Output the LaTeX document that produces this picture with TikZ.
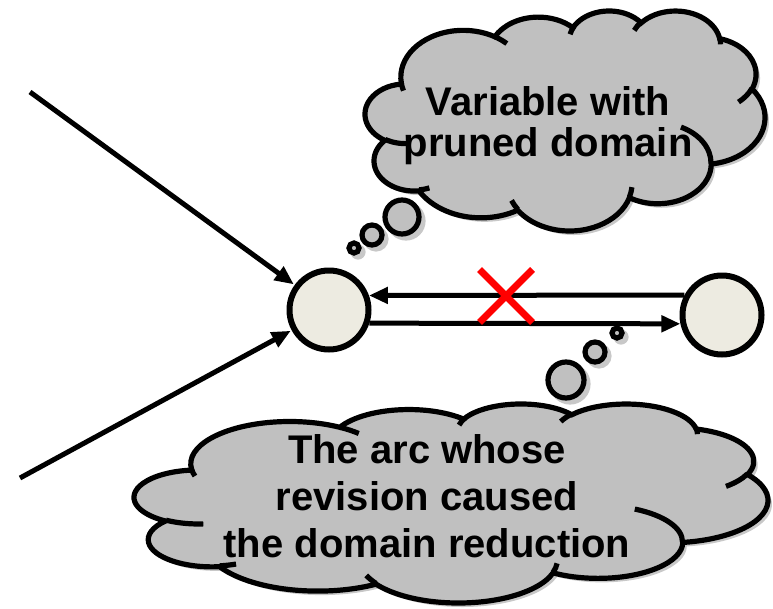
\documentclass[tikz,border=0pt]{standalone}
\usepackage{fontspec}
\setmainfont{Liberation Sans}
\usetikzlibrary{arrows.meta,shapes.misc}
\definecolor{cloudgray}{HTML}{C0C0C0}
\definecolor{nodefill}{HTML}{EDEBE1}
\definecolor{shadowgray}{HTML}{606060}
\tikzset{
  cloudline/.style={draw=black, line width=5.2pt, fill=cloudgray},
  creaseline/.style={draw=black, line width=5.2pt},
  cloudshadow/.style={fill=shadowgray, opacity=0.35, xshift=4pt, yshift=-4pt},
  vertex/.style={circle, draw=black, line width=6pt, fill=nodefill, minimum size=79pt, inner sep=0pt},
  edge/.style={line width=5pt, -{Triangle[length=19pt,width=16pt]}},
  cloudtext/.style={font=\bfseries\fontsize{40}{41}\selectfont, align=center, inner sep=0pt},
  bubble/.style={circle, draw=black, line width=5.2pt, fill=cloudgray, inner sep=0pt},
  bubbleshadow/.style={circle, fill=shadowgray, opacity=0.35, inner sep=0pt},
}
% OOXML "cloud" geometry, path units /100 (box 432 x 432, y downwards)
\def\arclist{67.53/91.90/-190.4875/123.7805, 53.33/72.67/-144.1024/89.9452, 43.65/59.45/-145.8079/99.7230, 48.57/65.95/-130.9861/117.2417, 53.33/72.73/-78.7089/109.0269, 67.75/92.20/-46.2673/130.2690, 57.85/78.67/0.6250/114.0333, 67.52/92.15/22.4516/115.1726, 77.20/105.43/66.2426/75.7110, 43.60/59.18/-274.9421/146.7356, 43.45/59.45/-246.8285/152.5189}
\def\creaselist{46.93/261.77/43.45/59.45/86.7420/26.4295, 69.28/348.99/43.60/59.18/73.6105/11.4475, 164.78/390.90/67.52/92.15/137.6242/14.0811, 288.27/347.51/67.52/92.15/6.4533/15.9984, 341.29/229.54/57.85/78.67/-70.2924/70.9174, 417.98/153.54/53.33/72.73/30.3180/27.7515, 383.24/54.26/48.57/65.95/-13.7443/14.8589, 290.78/39.52/48.57/65.95/-149.1815/18.1954, 221.41/47.20/43.65/59.45/-163.4943/19.0138, 140.00/51.92/67.53/91.90/-66.7070/12.3194, 41.27/157.89/67.53/91.90/157.6544/11.8582}
\newcommand\ooangles{%
  \pgfmathsetmacro\tz{atan2(\wr*sin(\st),\hr*cos(\st))}%
  \pgfmathsetmacro\te{atan2(\wr*sin(\st+\sw),\hr*cos(\st+\sw))}%
  \pgfmathsetmacro\dt{\te-\tz}%
  \pgfmathsetmacro\dt{\dt+360*round((\sw-\dt)/360)}%
}
\newcommand\cloudbbox{%
  \xdef\curx{39.00}\xdef\cury{143.70}%
  \xdef\minx{39}\xdef\maxx{39}\xdef\miny{143.7}\xdef\maxy{143.7}%
  \foreach \wr/\hr/\st/\sw in \arclist {%
    \ooangles
    \pgfmathsetmacro\ccx{\curx-\wr*cos(\tz)}%
    \pgfmathsetmacro\ccy{\cury-\hr*sin(\tz)}%
    \foreach \k in {0,...,30}{%
      \pgfmathsetmacro\ppx{\ccx+\wr*cos(\tz+\dt*\k/30)}%
      \pgfmathsetmacro\ppy{\ccy+\hr*sin(\tz+\dt*\k/30)}%
      \pgfmathsetmacro\mm{min(\minx,\ppx)}\xdef\minx{\mm}%
      \pgfmathsetmacro\mm{max(\maxx,\ppx)}\xdef\maxx{\mm}%
      \pgfmathsetmacro\mm{min(\miny,\ppy)}\xdef\miny{\mm}%
      \pgfmathsetmacro\mm{max(\maxy,\ppy)}\xdef\maxy{\mm}%
    }%
    \pgfmathsetmacro\mm{\ccx+\wr*cos(\tz+\dt)}\xdef\curx{\mm}%
    \pgfmathsetmacro\mm{\ccy+\hr*sin(\tz+\dt)}\xdef\cury{\mm}%
  }%
}
% #1 name, #2 left, #3 top, #4 right, #5 bottom (pixel coords, y down)
\newcommand\buildcloud[5]{%
  \pgfmathsetmacro\csx{(#4-#2)/(\maxx-\minx)}%
  \pgfmathsetmacro\csy{(#5-#3)/(\maxy-\miny)}%
  \pgfmathsetmacro\sxp{#2+(39-\minx)*\csx}%
  \pgfmathsetmacro\syp{#3+(143.7-\miny)*\csy}%
  \xdef\tmppath{(\sxp,\syp)}%
  \foreach \wr/\hr/\st/\sw in \arclist {%
    \ooangles
    \pgfmathsetmacro\aa{-\tz}\pgfmathsetmacro\dd{-\dt}%
    \pgfmathsetmacro\rx{\wr*\csx}\pgfmathsetmacro\ry{\hr*\csy}%
    \xdef\tmppath{\tmppath arc[start angle=\aa, delta angle=\dd, x radius=\rx pt, y radius=\ry pt]}%
  }%
  \global\expandafter\let\csname cloudout#1\endcsname\tmppath
  \xdef\tmppath{}%
  \foreach \qx/\qy/\wr/\hr/\st/\sw in \creaselist {%
    \ooangles
    \pgfmathsetmacro\aa{-\tz}\pgfmathsetmacro\dd{-\dt}%
    \pgfmathsetmacro\rx{\wr*\csx}\pgfmathsetmacro\ry{\hr*\csy}%
    \pgfmathsetmacro\mx{#2+(\qx-\minx)*\csx}%
    \pgfmathsetmacro\my{#3+(\qy-\miny)*\csy}%
    \xdef\tmppath{\tmppath (\mx,\my) arc[start angle=\aa, delta angle=\dd, x radius=\rx pt, y radius=\ry pt]}%
  }%
  \global\expandafter\let\csname cloudcrease#1\endcsname\tmppath
}
\begin{document}
\begin{tikzpicture}[x=1pt, y=-1pt]
\useasboundingbox (0,0) rectangle (773,608);
\cloudbbox
\buildcloud{top}{365}{11}{765}{231}
\buildcloud{bot}{134}{404}{768}{603}
% ---- graph
\node[vertex] (L) at (329,310) {};
\node[vertex] (R) at (722,315) {};
\coordinate (s1) at (30,92);
\coordinate (s2) at (20,478);
\draw[edge, shorten >=1pt] (s1) -- (L);
\draw[edge, shorten >=1pt] (s2) -- (L);
\draw[edge] (R.152) -- (L.20);
\draw[edge] (L.-18) -- (R.192);
\node[cross out, draw=red, line width=7pt, minimum size=46pt, inner sep=0pt] (x) at (506,296) {};
% ---- thought bubbles
\foreach \cx/\cy/\r/\n in {402/217/17/ta, 372/235/10/tb, 354/248/5/tc, 566/380/18/ba, 595/352/10/bb, 617/333/5/bc}{%
  \node[bubbleshadow, minimum size=2*\r pt+5.2pt] at (\cx+4,\cy+4) {};
  \node[bubble, minimum size=2*\r pt] (\n) at (\cx,\cy) {};
}
% ---- top cloud
\fill[cloudshadow] \cloudouttop -- cycle;
\draw[cloudline] \cloudouttop -- cycle;
\draw[creaseline] \cloudcreasetop;
% ---- bottom cloud
\fill[cloudshadow] \cloudoutbot -- cycle;
\draw[cloudline] \cloudoutbot -- cycle;
\draw[creaseline] \cloudcreasebot;
\node[cloudtext, anchor=base] (t1) at (548,156) {Variable with\\pruned domain};
\node[cloudtext, anchor=base, font=\bfseries\fontsize{40}{47}\selectfont] (t2) at (427,557) {The arc whose\\revision caused\\the domain reduction};
\end{tikzpicture}
\end{document}
